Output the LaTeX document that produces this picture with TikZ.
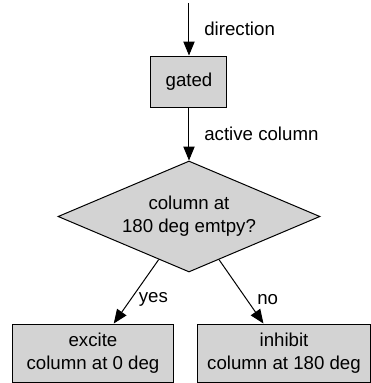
\documentclass[tikz,border=0pt]{standalone}
\usepackage{fontspec}
\setmainfont{Liberation Sans}
\usetikzlibrary{shapes,arrows.meta,positioning}
\definecolor{boxgray}{HTML}{D3D3D3}

\begin{document}
\begin{tikzpicture}[node distance=101.25pt, auto, line width=0.75pt, font=\fontsize{14}{17}\selectfont]
% Define styles
\tikzstyle{process} = [rectangle, minimum height=43.5pt, inner sep=0pt, align=center, draw=black, fill=boxgray]
\tikzstyle{decision} = [diamond, aspect=2.36, minimum width=196.5pt, minimum height=83.25pt, inner sep=0pt, align=center, draw=black, fill=boxgray]
\tikzstyle{arrow} = [-{Triangle[length=10.5pt,width=8.5pt]}]
\tikzstyle{lbl} = [right, xshift=7.8pt]

\useasboundingbox (-141.75pt,61.125pt) rectangle (136.5pt,-226.125pt);

% Create nodes
\coordinate (start) at (0pt,58.9pt);
\node (gated) [process, minimum width=57pt, minimum height=38.25pt] {gated};
\node (check) [decision, below of=gated] {column at\\180 deg emtpy?};

% Outcomes
\node (excite) [process, minimum width=120.75pt, below of=check, node distance=102.4pt, xshift=-72pt] {excite\\column at 0 deg};
\node (inhibit) [process, minimum width=129.75pt, below of=check, node distance=102.4pt, xshift=71.25pt] {inhibit\\column at 180 deg};

% Draw arrows
\draw [arrow] (start) -- node[lbl] {direction} (gated);
\draw [arrow] (gated) -- node[lbl] {active column} (check);
\draw [arrow] (check) -- node[lbl, pos=0.62, xshift=-5.5pt] {yes} (excite);
\draw [arrow] (check) -- node[lbl, pos=0.62, xshift=-3.5pt] {no} (inhibit);
\end{tikzpicture}
\end{document}
